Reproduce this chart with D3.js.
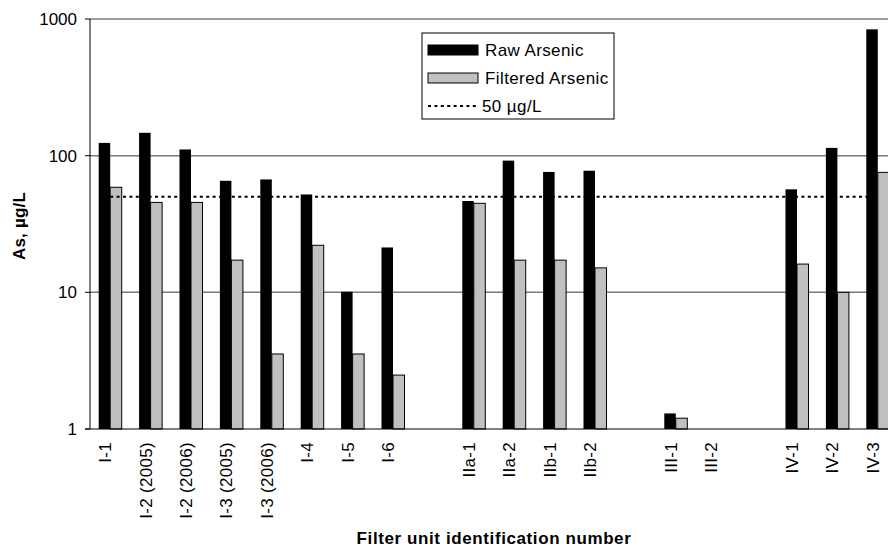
<!DOCTYPE html>
<html>
<head>
<meta charset="utf-8">
<script src="https://cdn.jsdelivr.net/npm/d3@7"></script>
<style>
body { margin: 0; background: #fff; }
text { font-family: "Liberation Sans", Arial, sans-serif; fill: #000; }
</style>
</head>
<body>
<script>
// chart data (blank slots keep the gaps between filter groups)
var categories = ["I-1", "I-2 (2005)", "I-2 (2006)", "I-3 (2005)", "I-3 (2006)", "I-4", "I-5", "I-6",
	"gap1", "IIa-1", "IIa-2", "IIb-1", "IIb-2", "gap2", "III-1", "III-2", "gap3", "IV-1", "IV-2", "IV-3"];
var rawArsenic = [124, 147, 111, 65.5, 67, 52, 10.1, 21.3,
	null, 46.6, 92, 76, 77.6, null, 1.3, null, null, 56.7, 114, 840];
var filteredArsenic = [58.7, 45.5, 45.5, 17.2, 3.54, 22.1, 3.54, 2.48,
	null, 44.8, 17.2, 17.2, 15.1, null, 1.2, null, null, 16.1, 10, 75.5];
var limitValue = 50;
var yTicks = [1, 10, 100, 1000];
var legendItems = ["Raw Arsenic", "Filtered Arsenic", "50 \u00b5g/L"];

var width = 888, height = 550;
var svg = d3.select("body")
	.append("svg")
	.attr("width", width)
	.attr("height", height);

// plot area runs a little past the right edge, like the original
var x = d3.scaleBand()
	.domain(categories)
	.range([90, 898])
	.paddingInner(0.43)
	.paddingOuter(0.215);
var xs = d3.scaleBand()
	.domain(["raw", "filtered"])
	.range([0, x.bandwidth()]);
var y = d3.scaleLog()
	.domain([1, 1000])
	.range([429, 19]);

// gridlines
svg.append("g")
	.selectAll("line")
	.data(yTicks.slice(1))
	.enter()
	.append("line")
	.attr("x1", 90)
	.attr("x2", width)
	.attr("y1", function(d) { return y(d); })
	.attr("y2", function(d) { return y(d); })
	.attr("stroke", "#7a7a7a")
	.attr("stroke-width", 1.5);

// bars
var rows = categories.map(function(c, i) {
	return {cat: c, raw: rawArsenic[i], filtered: filteredArsenic[i]};
});
var groups = svg.append("g")
	.selectAll("g")
	.data(rows)
	.enter()
	.append("g")
	.attr("transform", function(d) { return "translate(" + x(d.cat) + ",0)"; });

groups.filter(function(d) { return d.raw != null; })
	.append("rect")
	.attr("x", xs("raw"))
	.attr("width", xs.bandwidth())
	.attr("y", function(d) { return y(d.raw); })
	.attr("height", function(d) { return y(1) - y(d.raw); })
	.attr("fill", "#000");

groups.filter(function(d) { return d.filtered != null; })
	.append("rect")
	.attr("x", xs("filtered"))
	.attr("width", xs.bandwidth())
	.attr("y", function(d) { return y(d.filtered); })
	.attr("height", function(d) { return y(1) - y(d.filtered); })
	.attr("fill", "#c0c0c0")
	.attr("stroke", "#000")
	.attr("stroke-width", 1);

// 50 ug/L line
var limitLine = d3.line()
	.x(function(d) { return x(d) + x.bandwidth() / 2; })
	.y(function() { return y(limitValue); });
svg.append("path")
	.attr("d", limitLine(categories))
	.attr("fill", "none")
	.attr("stroke", "#000")
	.attr("stroke-width", 2)
	.attr("stroke-dasharray", "3,3.4");

// axes
svg.append("line")
	.attr("x1", 90).attr("x2", 90)
	.attr("y1", y(1000)).attr("y2", y(1))
	.attr("stroke", "#000");
svg.append("line")
	.attr("x1", 85).attr("x2", width)
	.attr("y1", y(1)).attr("y2", y(1))
	.attr("stroke", "#000");
svg.append("g")
	.selectAll("line")
	.data(yTicks)
	.enter()
	.append("line")
	.attr("x1", 85).attr("x2", 90)
	.attr("y1", function(d) { return y(d); })
	.attr("y2", function(d) { return y(d); })
	.attr("stroke", "#000");
svg.append("g")
	.selectAll("text")
	.data(yTicks)
	.enter()
	.append("text")
	.attr("x", 77)
	.attr("y", function(d) { return y(d); })
	.attr("dy", "0.35em")
	.attr("text-anchor", "end")
	.attr("font-size", 17)
	.text(function(d) { return d; });

// category labels
svg.append("g")
	.selectAll("text")
	.data(categories.filter(function(c) { return c.indexOf("gap") != 0; }))
	.enter()
	.append("text")
	.attr("transform", function(d) {
		return "translate(" + (x(d) + x.bandwidth() / 2 + 1) + ",442) rotate(-90)";
	})
	.attr("text-anchor", "end")
	.attr("font-size", 17)
	.attr("letter-spacing", 0.3)
	.text(function(d) { return d; });

// axis titles
svg.append("text")
	.attr("x", 494)
	.attr("y", 544)
	.attr("text-anchor", "middle")
	.attr("font-size", 17)
	.attr("font-weight", "bold")
	.attr("letter-spacing", 0.6)
	.text("Filter unit identification number");
svg.append("text")
	.attr("transform", "translate(25,226) rotate(-90)")
	.attr("text-anchor", "middle")
	.attr("font-size", 17)
	.attr("font-weight", "bold")
	.attr("letter-spacing", 0.2)
	.text("As, \u00b5g/L");

// legend
var legend = svg.append("g").attr("transform", "translate(422,33)");
legend.append("rect")
	.attr("width", 192)
	.attr("height", 86)
	.attr("fill", "#fff")
	.attr("stroke", "#000");
var items = legend.selectAll("g")
	.data(legendItems)
	.enter()
	.append("g")
	.attr("transform", function(d, i) { return "translate(0," + (17 + i * 28) + ")"; });
items.filter(function(d, i) { return i < 2; })
	.append("rect")
	.attr("x", 6)
	.attr("y", -5)
	.attr("width", 50)
	.attr("height", 10)
	.attr("fill", function(d, i) { return i == 0 ? "#000" : "#c0c0c0"; })
	.attr("stroke", "#000");
items.filter(function(d, i) { return i == 2; })
	.append("line")
	.attr("x1", 6).attr("x2", 56)
	.attr("y1", 0).attr("y2", 0)
	.attr("stroke", "#000")
	.attr("stroke-width", 2)
	.attr("stroke-dasharray", "3,3.4");
items.append("text")
	.attr("x", function(d, i) { return i == 2 ? 60 : 63; })
	.attr("dy", "0.35em")
	.attr("font-size", 17)
	.attr("letter-spacing", 0.4)
	.text(function(d) { return d; });
</script>
</body>
</html>
